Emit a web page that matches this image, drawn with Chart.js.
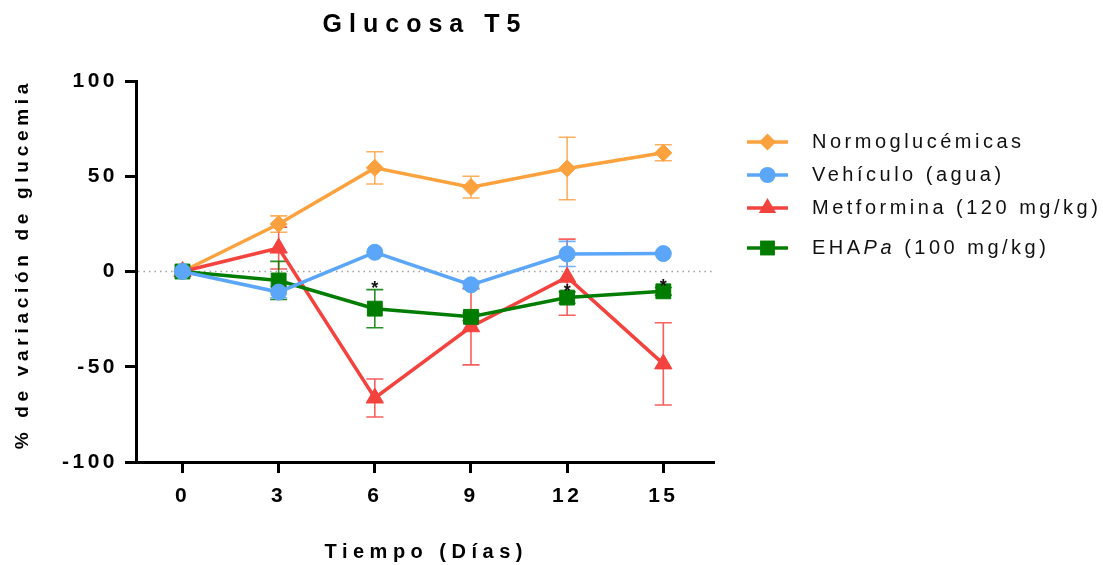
<!DOCTYPE html>
<html><head><meta charset="utf-8">
<script src="https://cdn.jsdelivr.net/npm/chart.js@4/dist/chart.umd.min.js"></script>
<style>html,body{margin:0;padding:0;background:#fff}#wrap{width:1103px;height:565px}</style>
</head><body><div id="wrap"><canvas id="c" width="1103" height="565"></canvas></div>
<script>
// ---- data ----
const days = [0, 3, 6, 9, 12, 15];
const xTickValues = [0, 3, 6, 9, 12, 15];
const yTickValues = [-100, -50, 0, 50, 100];
const chartTitle = 'Glucosa T5';
const xTitle = 'Tiempo (Días)';
const yTitle = '% de variación de glucemia';
const seriesNames = ['Normoglucémicas', 'Vehículo (agua)', 'Metformina (120 mg/kg)', 'EHAPa (100 mg/kg)'];
const normoglucemicas = [0, 24.9, 54.4, 44.3, 54.1, 62.3];
const normoglucemicasSEM = [0, 4.3, 8.5, 5.7, 16.4, 4.2];
const vehiculo = [0, -10.8, 10.1, -7.0, 9.2, 9.4];
const vehiculoSEM = [0, 3, 0, 2, 6.6, 0];
const metformina = [0, 12.3, -66.4, -29.0, -3.0, -48.5];
const metforminaSEM = [0, 11, 10, 20, 20, 21.6];
const ehapa = [0, -4.7, -19.5, -23.8, -13.7, -10.4];
const ehapaSEM = [0, 10, 10, 2, 3, 2];
const signifDays = [6, 12, 15];
const signifValues = [-6.8, -8.3, -5.3];

// ---- styles ----
const FONT = "'Liberation Sans', Arial, sans-serif";
const COLORS = ['#FBA23F', '#5BA6F9', '#F4433F', '#007D00'];
const STYLES = ['rectRot', 'circle', 'triangle', 'rect'];
const RADII = [8.5, 8, 10, 10.5];

function toXY(arr) { return days.map((d, i) => ({ x: d, y: arr[i] })); }
const valueSets = [normoglucemicas, vehiculo, metformina, ehapa];
const errSets = [normoglucemicasSEM, vehiculoSEM, metforminaSEM, ehapaSEM];
const orders = [3, 0, 2, 1];

const datasets = valueSets.map((vals, k) => ({
  label: seriesNames[k],
  data: toXY(vals),
  errors: errSets[k],
  borderColor: COLORS[k],
  backgroundColor: COLORS[k],
  borderWidth: 3.5,
  pointStyle: STYLES[k],
  pointRadius: RADII[k],
  pointBackgroundColor: COLORS[k],
  pointBorderColor: COLORS[k],
  pointBorderWidth: 1,
  tension: 0,
  order: orders[k],
  clip: false
}));

function drawMarker(ctx, style, x, y, r, color) {
  ctx.save();
  ctx.fillStyle = color;
  ctx.beginPath();
  if (style === 'circle') {
    ctx.arc(x, y, r, 0, Math.PI * 2);
  } else if (style === 'rect') {
    const s = r * Math.SQRT1_2;
    ctx.rect(x - s, y - s, 2 * s, 2 * s);
  } else if (style === 'rectRot') {
    ctx.moveTo(x, y - r); ctx.lineTo(x + r, y); ctx.lineTo(x, y + r); ctx.lineTo(x - r, y); ctx.closePath();
  } else if (style === 'triangle') {
    const a = Math.PI / 2;
    ctx.moveTo(x + Math.cos(-a) * r, y + Math.sin(-a) * r);
    ctx.lineTo(x + Math.cos(-a + 2 * Math.PI / 3) * r, y + Math.sin(-a + 2 * Math.PI / 3) * r);
    ctx.lineTo(x + Math.cos(-a + 4 * Math.PI / 3) * r, y + Math.sin(-a + 4 * Math.PI / 3) * r);
    ctx.closePath();
  }
  ctx.fill();
  ctx.restore();
}

function spaced(ctx, text, x, y, spacing, align) {
  ctx.letterSpacing = spacing + 'px';
  ctx.textAlign = 'left';
  const w = ctx.measureText(text).width - spacing;
  let sx = x;
  if (align === 'center') sx = x - w / 2;
  else if (align === 'right') sx = x - w;
  ctx.fillText(text, sx, y);
  return ctx.measureText(text).width;
}

const decorPlugin = {
  id: 'decor',
  beforeDraw(chart) {
    chart.ctx.letterSpacing = '3.5px';
  },
  beforeDatasetsDraw(chart) {
    const ctx = chart.ctx, xs = chart.scales.x, ys = chart.scales.y, ca = chart.chartArea;
    // dotted zero line
    ctx.save();
    ctx.strokeStyle = '#a0a0a0';
    ctx.lineWidth = 1.5;
    ctx.setLineDash([1.5, 4]);
    const y0 = ys.getPixelForValue(0);
    ctx.beginPath(); ctx.moveTo(ca.left + 2, y0); ctx.lineTo(ca.right, y0); ctx.stroke();
    ctx.restore();
    // error bars
    ctx.save();
    ctx.lineWidth = 1.6;
    const ordered = chart.data.datasets.map((d, i) => i).sort((a, b) => chart.data.datasets[b].order - chart.data.datasets[a].order);
    ordered.forEach(k => {
      const ds = chart.data.datasets[k];
      ctx.strokeStyle = ds.borderColor;
      ctx.globalAlpha = 0.85;
      ds.data.forEach((p, i) => {
        const e = ds.errors[i];
        if (!e) return;
        const px = xs.getPixelForValue(p.x);
        const yt = ys.getPixelForValue(p.y + e);
        const yb = ys.getPixelForValue(p.y - e);
        ctx.beginPath();
        ctx.moveTo(px, yt); ctx.lineTo(px, yb);
        ctx.moveTo(px - 8.5, yt); ctx.lineTo(px + 8.5, yt);
        ctx.moveTo(px - 8.5, yb); ctx.lineTo(px + 8.5, yb);
        ctx.stroke();
      });
    });
    ctx.restore();
  },
  afterDatasetsDraw(chart) {
    const ctx = chart.ctx, xs = chart.scales.x, ys = chart.scales.y;
    ctx.save();
    ctx.fillStyle = '#111';
    ctx.font = 'bold 18px ' + FONT;
    ctx.textBaseline = 'alphabetic';
    signifDays.forEach((d, i) => {
      spaced(ctx, '*', xs.getPixelForValue(d), ys.getPixelForValue(signifValues[i]) + 10, 0, 'center');
    });
    ctx.restore();
  },
  afterDraw(chart) {
    const ctx = chart.ctx, ca = chart.chartArea;
    ctx.save();
    ctx.fillStyle = '#000';
    ctx.textBaseline = 'middle';
    // title
    ctx.font = 'bold 25px ' + FONT;
    spaced(ctx, chartTitle, (ca.left + ca.right) / 2 - 3, 25, 7, 'center');
    // x title
    ctx.font = 'bold 20px ' + FONT;
    spaced(ctx, xTitle, (ca.left + ca.right) / 2 - 1, 552, 5.5, 'center');
    // y title
    ctx.save();
    ctx.translate(23, (ca.top + ca.bottom) / 2 - 5);
    ctx.rotate(-Math.PI / 2);
    ctx.font = 'bold 19px ' + FONT;
    spaced(ctx, yTitle, 0, 0, 4.7, 'center');
    ctx.restore();
    // legend
    const rowY = [142, 175, 208, 248];
    chart.data.datasets.forEach((ds, k) => {
      const y = rowY[k];
      ctx.save();
      ctx.strokeStyle = ds.borderColor;
      ctx.lineWidth = 3.5;
      ctx.beginPath(); ctx.moveTo(747, y); ctx.lineTo(788, y); ctx.stroke();
      ctx.restore();
      drawMarker(ctx, ds.pointStyle, 767.5, y, ds.pointRadius, ds.borderColor);
      ctx.fillStyle = '#111';
      let x = 812;
      const name = ds.label;
      if (name.startsWith('EHAPa')) {
        ctx.font = '20px ' + FONT;
        x += spaced(ctx, 'EHA', x, y, 3.5, 'left');
        ctx.font = 'italic 20px ' + FONT;
        x += spaced(ctx, 'Pa', x, y, 3.5, 'left');
        ctx.font = '20px ' + FONT;
        spaced(ctx, name.slice(5), x, y, 3.5, 'left');
      } else {
        ctx.font = '20px ' + FONT;
        spaced(ctx, name, x, y, 3.5, 'left');
      }
    });
    ctx.restore();
  }
};

const axisCommon = {
  grid: { display: true, drawOnChartArea: false, drawTicks: true, tickLength: 11, tickWidth: 3, tickColor: '#000', color: '#000', lineWidth: 3 },
  border: { display: true, color: '#000', width: 3 }
};

new Chart(document.getElementById('c'), {
  type: 'line',
  data: { datasets },
  options: {
    responsive: false,
    devicePixelRatio: 1,
    animation: false,
    events: [],
    layout: { padding: { top: 81, right: 390, bottom: 0, left: 0 } },
    plugins: { legend: { display: false }, title: { display: false }, tooltip: { enabled: false } },
    scales: {
      x: Object.assign({}, axisCommon, {
        type: 'linear', min: -1.45, max: 16.55,
        afterBuildTicks: s => { s.ticks = xTickValues.map(v => ({ value: v })); },
        afterFit: s => { s.height = 103; },
        ticks: { autoSkip: false, maxRotation: 0, color: '#000', padding: 11,
          font: { family: FONT, size: 21, weight: 'bold' }, callback: v => String(v) }
      }),
      y: Object.assign({}, axisCommon, {
        type: 'linear', min: -100, max: 100,
        afterBuildTicks: s => { s.ticks = yTickValues.map(v => ({ value: v })); },
        afterFit: s => { s.width = 136; },
        ticks: { color: '#000', padding: 7,
          font: { family: FONT, size: 21, weight: 'bold' }, callback: v => String(v) }
      })
    }
  },
  plugins: [decorPlugin]
});
</script>
</body></html>
